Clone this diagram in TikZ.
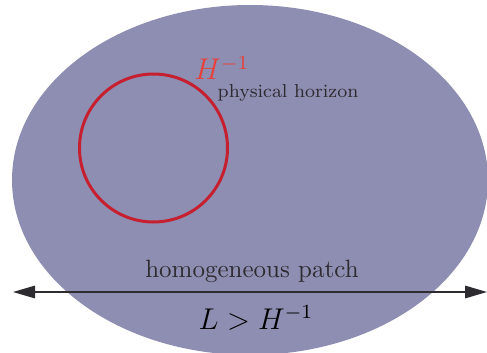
\documentclass[tikz,border=0pt]{standalone}
\usetikzlibrary{arrows.meta}
\definecolor{patchblue}{RGB}{142,142,178}
\definecolor{horizonred}{RGB}{198,32,48}
\definecolor{labelred}{RGB}{232,64,58}
\definecolor{textgray}{RGB}{45,42,48}
\begin{document}
\begin{tikzpicture}[x=0.4pt, y=-0.4pt]
    \useasboundingbox (0,0) rectangle (487,353);
    \tikzset{
        patch/.style={fill=patchblue},
        horizon/.style={draw=horizonred, line width=1.2pt},
        scale arrow/.style={{Triangle[length=8.8pt,width=5pt]}-{Triangle[length=8.8pt,width=5pt]}, line width=0.6pt, textgray}
    }
    \fill[patch] (250,180) ellipse [x radius=238, y radius=175];
    \draw[horizon] (153.5,148) circle [radius=74];

    % Labels
    \node[labelred, font=\large] (H) at (222,68) {$H^{-1}$};
    \node[textgray, font=\fontsize{7.5}{9}\selectfont] (phys) at (288,93) {physical horizon};
    \node[textgray] (patchlabel) at (252,271) {homogeneous patch};
    \node[font=\large] (L) at (256,318) {$L > H^{-1}$};

    % Length of the patch
    \coordinate (left) at (13,292);
    \coordinate (right) at (487,292);
    \draw[scale arrow] (left) -- (right);
\end{tikzpicture}
\end{document}
